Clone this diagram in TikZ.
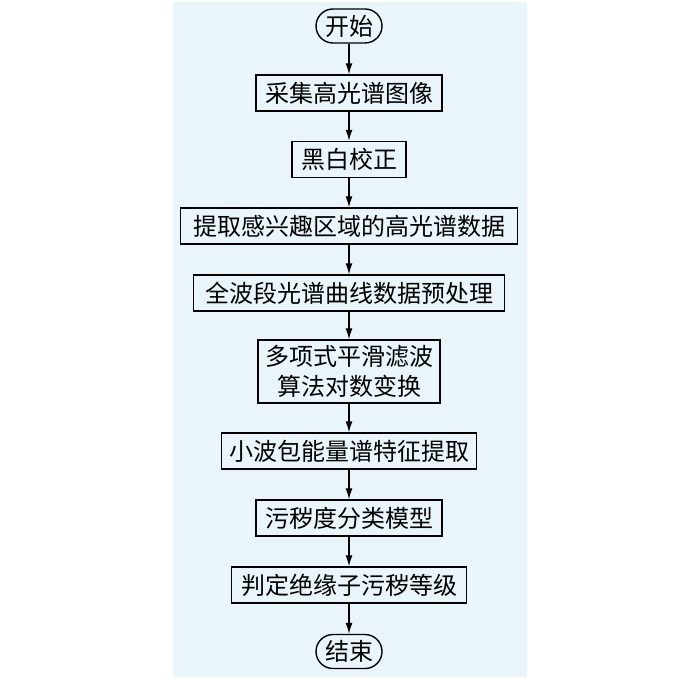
\documentclass[tikz,border=0pt]{standalone}
\usepackage{fontspec}
\newfontfamily\cjk{Noto Sans CJK SC}
\usetikzlibrary{arrows.meta}
\definecolor{panelblue}{RGB}{233,244,251}
\begin{document}
\begin{tikzpicture}[x=0.5pt, y=-0.5pt,
  stepbox/.style={draw, line width=0.7pt, inner xsep=4.5pt, inner ysep=0pt, minimum height=18pt, align=center, node font=\cjk\fontsize{12}{15}\selectfont},
  termbox/.style={stepbox, rounded corners=8.5pt, minimum height=17pt, inner xsep=4.5pt},
  flow/.style={-{Latex[length=5.5pt,width=3.5pt]}, line width=0.65pt}]
\useasboundingbox (0, 0) rectangle (700, 679);
\fill [panelblue] (173, 2) rectangle (527, 677);
% steps
\node [termbox] (start) at (349, 26) {开始};
\node [stepbox] (acquire) at (349, 93) {采集高光谱图像};
\node [stepbox] (calib) at (349, 159.5) {黑白校正};
\node [stepbox, inner xsep=6.25pt] (roi) at (349, 226) {提取感兴趣区域的高光谱数据};
\node [stepbox, inner xsep=5.75pt] (preproc) at (349, 293) {全波段光谱曲线数据预处理};
\node [stepbox, inner xsep=3.5pt, minimum height=31.5pt] (smooth) at (349, 371.5) {多项式平滑滤波\\算法对数变换};
\node [stepbox, inner xsep=3.75pt] (wavelet) at (349, 451) {小波包能量谱特征提取};
\node [stepbox] (model) at (349, 518) {污秽度分类模型};
\node [stepbox, inner xsep=4.75pt] (grade) at (349, 585) {判定绝缘子污秽等级};
\node [termbox] (stop) at (349, 651.5) {结束};
% arrows
\foreach \a/\b in {start/acquire, acquire/calib, calib/roi, roi/preproc, preproc/smooth, smooth/wavelet, wavelet/model, model/grade, grade/stop}
  \draw [flow] (\a) -- (\b);
\end{tikzpicture}
\end{document}
